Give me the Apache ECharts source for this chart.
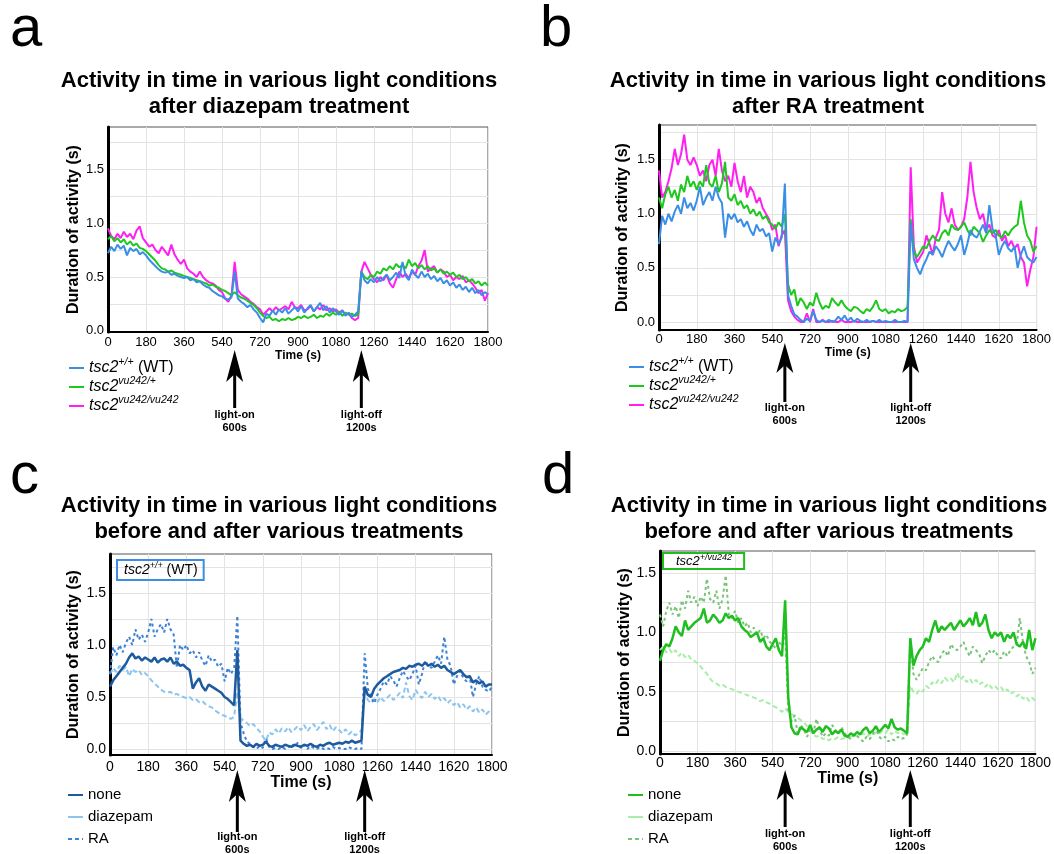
<!DOCTYPE html>
<html><head><meta charset="utf-8">
<script src="https://cdn.jsdelivr.net/npm/echarts@6/dist/echarts.min.js"></script>
<style>html,body{margin:0;padding:0;background:#fff}#c{width:1054px;height:854px}</style>
</head><body><div id="c"></div>
<script>
// ---------- DATA ----------
const times = [
0,15,30,45,60,75,90,105,120,135,150,165,
180,195,210,225,240,255,270,285,300,315,330,345,
360,375,390,405,420,435,450,465,480,495,510,525,
540,555,570,585,600,615,630,645,660,675,690,705,
720,735,750,765,780,795,810,825,840,855,870,885,
900,915,930,945,960,975,990,1005,1020,1035,1050,1065,
1080,1095,1110,1125,1140,1155,1170,1185,1200,1215,1230,1245,
1260,1275,1290,1305,1320,1335,1350,1365,1380,1395,1410,1425,
1440,1455,1470,1485,1500,1515,1530,1545,1560,1575,1590,1605,
1620,1635,1650,1665,1680,1695,1710,1725,1740,1755,1770,1785,
1800];
const yLabelValues = [0, 0.5, 1.0, 1.5];
const yGridValues = [0, 0.25, 0.5, 0.75, 1.0, 1.25, 1.5, 1.75];
const lightOn = 600, lightOff = 1200;

// a: diazepam treatment
const aWT = [
0.72,0.78,0.74,0.80,0.76,0.79,0.70,0.77,0.74,0.76,0.71,0.73,
0.70,0.66,0.63,0.60,0.57,0.55,0.54,0.55,0.52,0.53,0.51,0.50,
0.49,0.50,0.47,0.48,0.45,0.46,0.43,0.41,0.40,0.37,0.35,0.33,
0.32,0.30,0.29,0.31,0.55,0.30,0.27,0.25,0.22,0.24,0.20,0.17,
0.12,0.08,0.16,0.14,0.19,0.15,0.20,0.17,0.21,0.16,0.19,0.22,
0.18,0.23,0.17,0.21,0.24,0.18,0.22,0.26,0.19,0.23,0.17,0.21,
0.18,0.15,0.19,0.14,0.17,0.13,0.15,0.18,0.55,0.47,0.44,0.48,
0.45,0.50,0.46,0.49,0.52,0.47,0.50,0.54,0.49,0.64,0.51,0.47,
0.57,0.52,0.49,0.55,0.50,0.53,0.48,0.51,0.46,0.49,0.44,0.47,
0.42,0.45,0.40,0.43,0.38,0.41,0.36,0.40,0.35,0.38,0.33,0.36,
0.34];
const aHet = [
0.85,0.88,0.83,0.86,0.82,0.85,0.80,0.83,0.79,0.81,0.77,0.76,
0.74,0.71,0.68,0.65,0.61,0.58,0.57,0.55,0.56,0.54,0.53,0.52,
0.51,0.50,0.49,0.48,0.47,0.46,0.45,0.44,0.42,0.43,0.41,0.40,
0.38,0.37,0.35,0.33,0.36,0.33,0.31,0.30,0.28,0.26,0.24,0.21,
0.17,0.14,0.12,0.13,0.10,0.11,0.09,0.11,0.10,0.12,0.10,0.11,
0.13,0.12,0.14,0.12,0.13,0.15,0.12,0.14,0.13,0.16,0.14,0.17,
0.15,0.18,0.14,0.17,0.15,0.16,0.14,0.15,0.55,0.50,0.48,0.52,
0.50,0.55,0.53,0.58,0.56,0.60,0.57,0.62,0.59,0.61,0.58,0.66,
0.60,0.63,0.58,0.61,0.57,0.60,0.56,0.58,0.54,0.57,0.53,0.55,
0.52,0.54,0.50,0.52,0.48,0.50,0.46,0.48,0.44,0.46,0.42,0.45,
0.42];
const aHom = [
0.95,0.88,0.85,0.90,0.86,0.92,0.87,0.90,0.85,0.93,0.97,0.86,
0.82,0.78,0.80,0.75,0.72,0.78,0.74,0.70,0.80,0.71,0.66,0.62,
0.66,0.58,0.55,0.53,0.50,0.55,0.50,0.47,0.45,0.44,0.42,0.38,
0.36,0.30,0.27,0.33,0.64,0.38,0.34,0.32,0.30,0.27,0.25,0.22,
0.20,0.15,0.18,0.21,0.18,0.22,0.19,0.21,0.23,0.20,0.27,0.22,
0.21,0.24,0.19,0.20,0.23,0.18,0.22,0.20,0.24,0.19,0.21,0.18,
0.20,0.17,0.19,0.15,0.16,0.12,0.10,0.12,0.55,0.64,0.58,0.52,
0.48,0.45,0.50,0.47,0.52,0.44,0.40,0.48,0.55,0.50,0.53,0.49,
0.55,0.52,0.60,0.65,0.75,0.55,0.58,0.60,0.54,0.57,0.55,0.50,
0.52,0.47,0.50,0.48,0.51,0.45,0.47,0.44,0.40,0.35,0.38,0.28,
0.35];
// b: RA treatment
const bWT = [
0.72,0.98,0.90,1.00,0.93,1.02,1.08,1.00,1.15,1.05,1.10,1.03,
1.12,1.25,1.08,1.15,1.20,1.12,1.25,1.15,1.10,0.78,1.00,0.95,
1.00,0.92,0.95,0.88,0.93,0.85,0.80,0.90,0.84,0.86,0.79,0.82,
0.65,0.78,0.72,0.78,1.28,0.25,0.15,0.07,0.05,0.02,0.00,0.03,
0.01,0.10,0.02,0.00,0.01,0.00,0.02,0.00,0.01,0.05,0.02,0.06,
0.01,0.04,0.00,0.03,0.01,0.00,0.02,0.00,0.01,0.00,0.02,0.00,
0.01,0.00,0.00,0.02,0.00,0.00,0.01,0.00,0.92,0.58,0.50,0.44,
0.52,0.58,0.65,0.62,0.70,0.66,0.60,0.68,0.75,0.70,0.66,0.72,
0.80,0.62,0.72,0.85,0.80,0.78,0.84,0.90,0.82,1.08,0.86,0.80,
0.62,0.70,0.75,0.68,0.65,0.70,0.50,0.62,0.70,0.60,0.57,0.55,
0.60];
const bHet = [
1.15,1.05,1.18,1.25,1.15,1.22,1.12,1.27,1.20,1.35,1.25,1.30,
1.22,1.30,1.25,1.45,1.28,1.25,1.35,1.20,1.28,1.48,1.15,1.12,
1.18,1.08,1.12,1.05,1.08,1.00,1.04,0.98,1.02,0.95,0.98,0.92,
0.90,0.86,0.92,0.88,1.00,0.35,0.25,0.30,0.15,0.22,0.18,0.12,
0.18,0.15,0.27,0.18,0.12,0.15,0.13,0.22,0.18,0.15,0.20,0.15,
0.12,0.10,0.14,0.13,0.10,0.08,0.12,0.10,0.14,0.20,0.12,0.10,
0.12,0.08,0.10,0.09,0.12,0.10,0.11,0.14,0.95,0.65,0.60,0.65,
0.70,0.68,0.75,0.80,0.76,0.75,0.82,0.85,0.80,0.90,0.86,0.85,
0.88,0.92,0.85,0.80,0.88,0.85,0.82,0.74,0.80,0.85,0.82,0.85,
0.80,0.78,0.84,0.80,0.85,0.88,0.90,1.12,0.92,0.80,0.75,0.65,
0.70];
const bHom = [
1.40,1.15,1.20,1.30,1.42,1.60,1.45,1.55,1.73,1.50,1.45,1.52,
1.45,1.35,1.40,1.30,1.45,1.50,1.35,1.60,1.40,1.30,1.35,1.25,
1.47,1.30,1.20,1.35,1.15,1.25,1.20,1.10,1.15,1.05,1.00,0.95,
0.85,0.90,0.70,0.80,0.85,0.20,0.10,0.05,0.02,0.00,0.00,0.08,
0.00,0.12,0.00,0.00,0.02,0.00,0.00,0.01,0.00,0.00,0.02,0.00,
0.00,0.00,0.01,0.00,0.00,0.00,0.00,0.00,0.01,0.00,0.00,0.00,
0.00,0.00,0.00,0.00,0.00,0.00,0.00,0.00,1.43,0.70,0.55,0.60,
0.65,0.80,0.72,0.62,0.78,0.85,1.20,1.00,0.92,1.05,0.90,0.85,
0.88,0.95,1.15,1.48,1.20,1.05,0.95,1.00,0.85,0.90,0.80,0.78,
0.85,0.75,0.80,0.70,0.75,0.68,0.72,0.60,0.55,0.33,0.48,0.60,
0.88];
// c: WT, no treatment (diazepam = aWT, RA = bWT)
const cNone = [
0.60,0.66,0.70,0.74,0.78,0.82,0.88,0.92,0.87,0.89,0.85,0.88,
0.86,0.84,0.88,0.83,0.86,0.87,0.84,0.88,0.82,0.84,0.80,0.81,
0.78,0.76,0.58,0.64,0.68,0.60,0.56,0.62,0.60,0.58,0.56,0.54,
0.50,0.48,0.45,0.42,0.95,0.08,0.05,0.03,0.04,0.02,0.05,0.03,
0.04,0.07,0.03,0.02,0.04,0.03,0.02,0.04,0.03,0.02,0.04,0.03,
0.02,0.04,0.03,0.05,0.03,0.02,0.04,0.03,0.05,0.06,0.04,0.05,
0.06,0.05,0.07,0.06,0.08,0.06,0.07,0.08,0.60,0.52,0.50,0.58,
0.62,0.65,0.68,0.70,0.72,0.74,0.75,0.76,0.78,0.77,0.80,0.79,
0.81,0.82,0.80,0.83,0.80,0.82,0.79,0.81,0.78,0.80,0.76,0.74,
0.72,0.74,0.76,0.72,0.69,0.70,0.64,0.66,0.63,0.65,0.60,0.62,
0.62];
// d: heterozygote, no treatment (diazepam = aHet, RA = bHet)
const dNone = [
0.76,0.85,0.90,0.88,0.95,1.05,1.00,0.97,1.10,1.02,1.05,1.08,
1.10,1.12,1.20,1.08,1.10,1.15,1.12,1.08,1.10,1.16,1.12,1.14,
1.10,1.12,1.05,1.02,1.00,0.96,0.98,1.00,0.92,0.95,0.88,0.85,
0.90,0.95,0.85,0.80,1.27,0.45,0.20,0.15,0.14,0.20,0.18,0.16,
0.22,0.15,0.18,0.20,0.16,0.21,0.19,0.14,0.17,0.15,0.18,0.13,
0.12,0.15,0.13,0.16,0.14,0.18,0.20,0.15,0.17,0.21,0.16,0.19,
0.22,0.19,0.27,0.20,0.18,0.19,0.17,0.15,0.95,0.72,0.80,0.85,
0.88,0.95,0.92,1.02,1.10,1.00,1.05,1.02,1.05,1.08,1.02,1.06,
1.10,1.05,1.08,1.12,1.06,1.17,1.05,1.08,1.15,1.02,0.95,1.00,
0.97,1.00,0.92,0.98,0.95,1.00,0.90,0.88,0.92,0.86,1.02,0.85,
0.95];

const panelLetters = ['a', 'b', 'c', 'd'];
const panelTitles = [
  'Activity in time in various light conditions\nafter diazepam treatment',
  'Activity in time in various light conditions\nafter RA treatment',
  'Activity in time in various light conditions\nbefore and after various treatments',
  'Activity in time in various light conditions\nbefore and after various treatments'
];
const yAxisName = 'Duration of activity (s)';
const xAxisName = 'Time (s)';

// ---------- LAYOUT ----------
const FONT = '"Liberation Sans", Arial, Helvetica, sans-serif';
const panels = [
  {grid:{left:108, top:127, width:380, height:205}, yMin:-0.01, yMax:1.89, tick:13, xName:12, xGap:17, yGap:26, xMargin:4},
  {grid:{left:659, top:125, width:382, height:205}, yMin:-0.074, yMax:1.82, tick:13, xName:12, xGap:17, yGap:28, xMargin:3},
  {grid:{left:110, top:554, width:382, height:201}, yMin:-0.058, yMax:1.875, tick:14, xName:16, xGap:18, yGap:28, xMargin:5},
  {grid:{left:660, top:551, width:381, height:203}, yMin:-0.025, yMax:1.685, tick:14, xName:16, xGap:16, yGap:26, xMargin:2}
];

const C = {
  wt:'#3a8ee6', het:'#1ec81e', hom:'#ff1ff0',
  cNone:'#1d5a9e', cDia:'#8dc5ef', cRA:'#3b82d6',
  dNone:'#1fbf1f', dDia:'#a8eea8', dRA:'#79c479'
};

function pts(arr){ return times.map((t,i)=>[t, arr[i]]); }
function line(name, k, arr, color, width, type){
  return {name, type:'line', xAxisIndex:k, yAxisIndex:k, data:pts(arr), showSymbol:false, symbol:'none',
    lineStyle:{color, width, type}, itemStyle:{color}, silent:true, animation:false};
}

const series = [
  line('a_hom',0,aHom,C.hom,2,'solid'), line('a_het',0,aHet,C.het,2,'solid'), line('a_wt',0,aWT,C.wt,2,'solid'),
  line('b_hom',1,bHom,C.hom,2,'solid'), line('b_het',1,bHet,C.het,2,'solid'), line('b_wt',1,bWT,C.wt,2,'solid'),
  line('c_dia',2,aWT,C.cDia,2,[5,3]), line('c_ra',2,bWT,C.cRA,2,[3,3]), line('c_none',2,cNone,C.cNone,2.5,'solid'),
  line('d_dia',3,aHet,C.dDia,2,[5,3]), line('d_ra',3,bHet,C.dRA,2,[3,3]), line('d_none',3,dNone,C.dNone,2.5,'solid')
];

const legendText = {
  a_wt:'{i|tsc2}{s|+/+}{n| (WT)}', a_het:'{i|tsc2}{s|vu242/+}', a_hom:'{i|tsc2}{s|vu242/vu242}',
  b_wt:'{i|tsc2}{s|+/+}{n| (WT)}', b_het:'{i|tsc2}{s|vu242/+}', b_hom:'{i|tsc2}{s|vu242/vu242}',
  c_none:'none', c_dia:'diazepam', c_ra:'RA', d_none:'none', d_dia:'diazepam', d_ra:'RA'
};
const richGeno = {
  i:{fontStyle:'italic', fontSize:16, lineHeight:22, color:'#000', fontFamily:FONT},
  s:{fontStyle:'italic', fontSize:10.5, lineHeight:10, verticalAlign:'top', color:'#000', fontFamily:FONT},
  n:{fontSize:16, lineHeight:22, color:'#000', fontFamily:FONT}
};
function legend(left, top, data, rich, lh){
  return {left, top, orient:'vertical', itemWidth:15, itemHeight:10, itemGap:0, padding:0, selectedMode:false,
    height:80, itemStyle:{opacity:0},
    data, formatter:n=>legendText[n],
    textStyle: rich ? {rich, color:'#000'} : {fontSize:15, lineHeight:lh, color:'#000', fontFamily:FONT}};
}

const option = {
  animation:false,
  backgroundColor:'#fff',
  grid: panels.map(p=>Object.assign({show:true, borderColor:'#555', borderWidth:1, backgroundColor:'transparent'}, p.grid)),
  xAxis: panels.map((p,k)=>({
    type:'value', gridIndex:k, min:0, max:1800, interval:180,
    name:xAxisName, nameLocation:'middle', nameGap:p.xGap,
    nameTextStyle:{fontSize:p.xName, fontWeight:'bold', color:'#000', fontFamily:FONT},
    axisLine:{show:true, onZero:false, lineStyle:{color:'#000', width:2}},
    axisTick:{show:false},
    axisLabel:{fontSize:p.tick, color:'#000', margin:p.xMargin, fontFamily:FONT, showMinLabel:true, showMaxLabel:true,
      formatter:v=>String(v)},
    splitLine:{show:true, lineStyle:{color:'#e3e3e3', width:1}}
  })),
  yAxis: panels.map((p,k)=>({
    type:'value', gridIndex:k, min:p.yMin, max:p.yMax,
    name:yAxisName, nameLocation:'middle', nameGap:p.yGap,
    nameTextStyle:{fontSize:16, fontWeight:'bold', color:'#000', fontFamily:FONT},
    axisLine:{show:true, onZero:false, lineStyle:{color:'#000', width:3}},
    axisTick:{show:false, customValues:yGridValues},
    axisLabel:{fontSize:p.tick, color:'#000', margin:4, fontFamily:FONT, customValues:yLabelValues,
      formatter:v=>v.toFixed(1)},
    splitLine:{show:true, lineStyle:{color:'#e3e3e3', width:1}}
  })),
  legend: [
    legend(68, 357, ['a_wt','a_het','a_hom'], richGeno),
    legend(628, 356, ['b_wt','b_het','b_hom'], richGeno),
    legend(67, 784, ['c_none',{name:'c_dia', lineStyle:{type:'solid'}},{name:'c_ra', lineStyle:{type:[4,3]}}], null, 22),
    legend(627, 784, ['d_none',{name:'d_dia', lineStyle:{type:'solid'}},{name:'d_ra', lineStyle:{type:[4,3]}}], null, 22)
  ],
  series
};

const chart = echarts.init(document.getElementById('c'), null, {renderer:'canvas'});
chart.setOption(option);

// ---------- ANNOTATIONS ----------
const els = [];
const letterPos = [[10,30],[540,30],[10,477],[542,477]];
panelLetters.forEach((L,i)=>els.push({type:'text', style:{text:L, x:letterPos[i][0], y:letterPos[i][1],
  align:'left', verticalAlign:'middle', fontSize:58, fontFamily:FONT, fill:'#000'}}));
const titlePos = [[279,94],[828,94],[279,519],[829,519]];
panelTitles.forEach((T,i)=>els.push({type:'text', style:{text:T, x:titlePos[i][0], y:titlePos[i][1],
  align:'center', verticalAlign:'middle', fontSize:22, fontWeight:'bold', lineHeight:26, fontFamily:FONT, fill:'#000'}}));

// inset genotype boxes
els.push({type:'text', style:{text:'{i|tsc2}{s|+/+}{n| (WT)}', x:117, y:560, align:'left', verticalAlign:'top',
  padding:[1,6,1,7], borderColor:'#3a8ee6', borderWidth:2,
  rich:{i:{fontStyle:'italic', fontSize:14, lineHeight:18, fill:'#000', fontFamily:FONT},
        s:{fontStyle:'italic', fontSize:9, lineHeight:9, verticalAlign:'top', fill:'#000', fontFamily:FONT},
        n:{fontSize:14, lineHeight:18, fill:'#000', fontFamily:FONT}}}});
els.push({type:'text', style:{text:'{i|tsc2}{s|+/vu242}', x:663, y:553, align:'left', verticalAlign:'top',
  padding:[0,12,0,13], borderColor:'#22bb22', borderWidth:2,
  rich:{i:{fontStyle:'italic', fontSize:13, lineHeight:16, fill:'#000', fontFamily:FONT},
        s:{fontStyle:'italic', fontSize:9, lineHeight:9, verticalAlign:'top', fill:'#000', fontFamily:FONT}}}});

// light-on / light-off arrows placed at data x positions
const arrowCfg = [
  {k:0, tip:350, head:32, bottom:408, labelY:421},
  {k:1, tip:343, head:30, bottom:402, labelY:414},
  {k:2, tip:770, head:32, bottom:832, labelY:843},
  {k:3, tip:770, head:30, bottom:827, labelY:840}
];
arrowCfg.forEach(cfg=>{
  [[lightOn,'light-on\n600s'],[lightOff,'light-off\n1200s']].forEach(([t,label])=>{
    const x = chart.convertToPixel({xAxisIndex:cfg.k}, t);
    els.push({type:'line', shape:{x1:x, y1:cfg.tip+cfg.head-10, x2:x, y2:cfg.bottom}, style:{stroke:'#000', lineWidth:3}});
    els.push({type:'polygon', shape:{points:[[x,cfg.tip],[x+8.5,cfg.tip+cfg.head],[x,cfg.tip+cfg.head-8],[x-8.5,cfg.tip+cfg.head]]}, style:{fill:'#000'}});
    els.push({type:'text', style:{text:label, x, y:cfg.labelY, align:'center', verticalAlign:'middle',
      fontSize:11, fontWeight:'bold', lineHeight:13, fontFamily:FONT, fill:'#000'}});
  });
});
chart.setOption({graphic:{elements:els}});
</script>
</body></html>
